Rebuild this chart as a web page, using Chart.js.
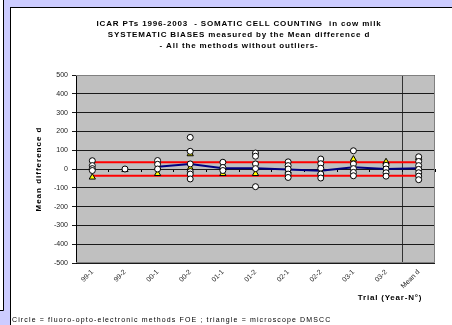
<!DOCTYPE html>
<html>
<head>
<meta charset="utf-8">
<script src="https://cdn.jsdelivr.net/npm/chart.js@4.4.1/dist/chart.umd.min.js"></script>
<style>
html, body { margin: 0; padding: 0; background: #ccccff; }
canvas { display: block; }
</style>
</head>
<body>
<canvas id="graph" width="452" height="325"></canvas>
<script>
// trials (year-N°) + overall mean column
var trials = ['99-1', '99-2', '00-1', '00-2', '01-1', '01-2', '02-1', '02-2', '03-1', '03-2', 'Mean d'];

// mean difference d per lab, fluoro-opto-electronic methods (circles)
var foeValues = [
  [44, 18, 2, -8],
  [0],
  [45, 25, 0],
  [168, 94, 27, -14, -27, -53],
  [36, 8, -8],
  [85, 68, 27, 2, -94],
  [38, 18, 0, -27, -45],
  [53, 28, 4, -27, -48],
  [97, 27, 2, -18, -36],
  [20, 0, -20, -38],
  [65, 40, 18, -2, -20, -38, -57]
];

// microscope DMSCC (triangles)
var dmsccValues = [
  [-44], [-4], [-25], [80, 5], [-25], [-25], [-12], [-18], [52], [38], [60, 5]
];

// mean of all methods per trial
var meanValues = [null, null, 12, 27, 4, 4, -2, -9, 9, 0, 4];

// tolerance limits
var upperLimit = [36, 36, 36, 36, 36, 36, 36, 36, 36, 36, 36];
var lowerLimit = [-36, -36, -36, -36, -36, -36, -36, -36, -36, -36, -36];

var yTicks = [500, 400, 300, 200, 100, 0, -100, -200, -300, -400, -500];

var titleLines = [
  'ICAR PTs 1996-2003  - SOMATIC CELL COUNTING  in cow milk',
  'SYSTEMATIC BIASES measured by the Mean difference d',
  '- All the methods without outliers-'
];
var yTitle = 'Mean difference d';
var xTitle = 'Trial (Year-N°)';
var caption = 'Circle = fluoro-opto-electronic methods FOE ; triangle = microscope DMSCC';

function toPoints(groups) {
  var pts = [];
  for (var i = 0; i < groups.length; i++) {
    for (var j = 0; j < groups[i].length; j++) {
      pts.push({x: trials[i], y: groups[i][j]});
    }
  }
  return pts;
}

function drawText(ctx, text, x, y, font, align, spacing, angle) {
  ctx.save();
  ctx.font = font;
  ctx.fillStyle = '#000';
  ctx.textAlign = align;
  ctx.textBaseline = 'middle';
  ctx.letterSpacing = spacing + 'px';
  ctx.translate(x, y);
  if (angle) ctx.rotate(angle);
  ctx.fillText(text, 0, 0);
  ctx.restore();
}

var framePlugin = {
  id: 'frame',
  beforeDraw: function(chart) {
    var ctx = chart.ctx, a = chart.chartArea;
    ctx.save();
    ctx.fillStyle = '#ccccff';
    ctx.fillRect(0, 0, chart.width, chart.height);
    // neighbouring panel on the left
    ctx.fillStyle = '#ffffff';
    ctx.fillRect(0, 0, 3, 310);
    ctx.strokeStyle = '#000';
    ctx.lineWidth = 1;
    ctx.beginPath();
    ctx.moveTo(3.5, 0); ctx.lineTo(3.5, 310.5); ctx.lineTo(0, 310.5);
    ctx.stroke();
    // chart panel
    ctx.fillStyle = '#ffffff';
    ctx.fillRect(10.5, 7.5, chart.width, chart.height);
    ctx.strokeRect(10.5, 7.5, chart.width, chart.height);
    // plot area
    ctx.fillStyle = '#c0c0c0';
    ctx.fillRect(a.left, a.top, a.right - a.left, a.bottom - a.top);
    ctx.restore();
  },
  beforeDatasetsDraw: function(chart) {
    var ctx = chart.ctx, a = chart.chartArea;
    ctx.save();
    ctx.strokeStyle = '#808080';
    ctx.lineWidth = 1;
    ctx.beginPath();
    ctx.moveTo(a.left, a.top + 0.5); ctx.lineTo(a.right - 0.5, a.top + 0.5);
    ctx.lineTo(a.right - 0.5, a.bottom - 0.5); ctx.lineTo(a.left, a.bottom - 0.5);
    ctx.stroke();
    ctx.restore();
  },
  afterDraw: function(chart) {
    var ctx = chart.ctx, a = chart.chartArea;
    var bold = 'bold 8px Arial, "Liberation Sans", sans-serif';
    drawText(ctx, titleLines[0], 239, 24, bold, 'center', 0.85);
    drawText(ctx, titleLines[1], 239, 35, bold, 'center', 0.85);
    drawText(ctx, titleLines[2], 239, 46, bold, 'center', 0.85);
    drawText(ctx, yTitle, 39, (a.top + a.bottom) / 2, bold, 'center', 1, -Math.PI / 2);
    drawText(ctx, xTitle, 390, 298, bold, 'center', 0.8);
    drawText(ctx, caption, 12, 320, '7px Arial, "Liberation Sans", sans-serif', 'left', 1.13);
  }
};

var tickFont = {family: 'Arial, "Liberation Sans", sans-serif', size: 7};

new Chart(document.getElementById('graph'), {
  type: 'line',
  data: {
    labels: trials,
    datasets: [
      {
        label: 'FOE',
        data: toPoints(foeValues),
        showLine: false,
        pointStyle: 'circle',
        pointRadius: 3,
        pointBackgroundColor: '#ffffff',
        pointBorderColor: '#000000',
        pointBorderWidth: 1
      },
      {
        label: 'DMSCC',
        data: toPoints(dmsccValues),
        showLine: false,
        pointStyle: 'triangle',
        pointRadius: 3.6,
        pointBackgroundColor: '#ffff00',
        pointBorderColor: '#000000',
        pointBorderWidth: 1
      },
      {
        label: 'Mean',
        data: meanValues,
        borderColor: '#000080',
        borderWidth: 2,
        pointRadius: 0,
        spanGaps: false
      },
      {
        label: 'Upper limit',
        data: upperLimit,
        borderColor: '#ff0000',
        borderWidth: 2,
        pointRadius: 0
      },
      {
        label: 'Lower limit',
        data: lowerLimit,
        borderColor: '#ff0000',
        borderWidth: 2,
        pointRadius: 0
      }
    ]
  },
  options: {
    responsive: false,
    animation: false,
    devicePixelRatio: 1,
    layout: {padding: {left: 36, right: 17, top: 75, bottom: 22}},
    plugins: {legend: {display: false}, tooltip: {enabled: false}, title: {display: false}},
    scales: {
      x: {
        type: 'category',
        offset: true,
        grid: {
          offset: true,
          drawTicks: false,
          lineWidth: 1,
          color: function(c) { return c.index === 10 ? '#333333' : 'rgba(0,0,0,0)'; }
        },
        border: {display: false},
        ticks: {
          autoSkip: false,
          minRotation: 45,
          maxRotation: 45,
          padding: 5,
          color: '#222',
          font: tickFont
        },
        afterFit: function(s) { s.height = 40; }
      },
      x2: {
        type: 'category',
        position: {y: 0},
        offset: true,
        grid: {offset: true, drawOnChartArea: false, drawTicks: true, tickLength: 3, color: '#000'},
        border: {display: false},
        ticks: {display: false},
        afterFit: function(s) { s.height = 0; }
      },
      y: {
        min: -500,
        max: 500,
        afterBuildTicks: function(s) { s.ticks = yTicks.map(function(v) { return {value: v}; }); },
        grid: {color: '#1a1a1a', lineWidth: 1, tickLength: 4},
        border: {color: '#000', width: 1},
        ticks: {padding: 4, color: '#222', font: tickFont},
        afterFit: function(s) { s.width = 40; }
      }
    }
  },
  plugins: [framePlugin]
});
</script>
</body>
</html>
